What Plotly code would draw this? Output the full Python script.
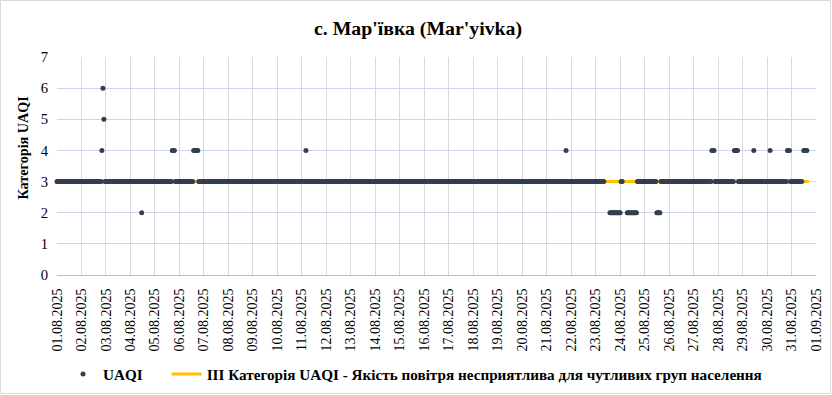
import pandas as pd
import plotly.graph_objects as go

# ---- data ----
period_start = "2025-08-01 00:00"
period_end = "2025-08-31 17:00"
baseline_category = 3          # UAQI category for most hours
threshold_category = 3         # III category line

# (start, end, category) spans that differ from the baseline
span_starts = ["2025-08-02 20:00", "2025-08-02 21:00", "2025-08-02 22:00",
               "2025-08-04 11:00", "2025-08-05 17:00", "2025-08-06 14:00",
               "2025-08-11 04:00", "2025-08-21 19:00", "2025-08-23 14:00",
               "2025-08-24 07:00", "2025-08-25 12:00", "2025-08-27 18:00",
               "2025-08-28 16:00", "2025-08-29 11:00", "2025-08-30 03:00",
               "2025-08-30 20:00", "2025-08-31 12:00"]
span_ends = ["2025-08-02 20:00", "2025-08-02 21:00", "2025-08-02 22:00",
             "2025-08-04 11:00", "2025-08-05 19:00", "2025-08-06 18:00",
             "2025-08-11 04:00", "2025-08-21 19:00", "2025-08-24 00:00",
             "2025-08-24 16:00", "2025-08-25 15:00", "2025-08-27 20:00",
             "2025-08-28 19:00", "2025-08-29 11:00", "2025-08-30 03:00",
             "2025-08-30 22:00", "2025-08-31 15:00"]
span_values = [4, 6, 5, 2, 4, 4, 4, 4, 2, 2, 2, 4, 4, 4, 4, 4, 4]

# hours without a UAQI value
gap_starts = ["2025-08-23 09:00", "2025-08-24 03:00", "2025-08-31 11:00", "2025-08-31 16:00"]
gap_ends = ["2025-08-23 13:00", "2025-08-24 06:00", "2025-08-31 11:00", "2025-08-31 17:00"]

series_name = "UAQI"
threshold_name = "III Категорія UAQI - Якість повітря несприятлива для чутливих груп населення"
title_text = "с. Мар'ївка (Mar'yivka)"
y_title = "Категорія UAQI"

# ---- build table ----
hours = pd.date_range(period_start, period_end, freq="h")
uaqi = pd.Series(float(baseline_category), index=hours)
for s, e, v in zip(span_starts, span_ends, span_values):
    uaqi.loc[s:e] = v
for s, e in zip(gap_starts, gap_ends):
    uaqi.loc[s:e] = float("nan")
uaqi = uaqi.dropna()

FONT = "'Liberation Serif', 'Times New Roman', Times, serif"
MARK = "#333F50"
YELLOW = "#FFC000"

L, R, T, B = 57, 16, 57, 120
W, H = 832, 395
PW, PH = W - L - R, H - T - B


def px_x(px):
    return (px - L) / PW


def px_y(py):
    return (T + PH - py) / PH


fig = go.Figure()
fig.add_trace(go.Scatter(
    x=hours, y=[threshold_category] * len(hours), mode="lines",
    line=dict(color=YELLOW, width=3), name="<b>" + threshold_name + "</b>", legendrank=2,
    cliponaxis=False, hoverinfo="skip"))
fig.add_trace(go.Scatter(
    x=uaqi.index, y=uaqi.values, mode="markers",
    marker=dict(color=MARK, size=5, line=dict(width=0)),
    name="<b>" + series_name + "</b>" + "\u00a0" * 5, legendrank=1, cliponaxis=False))

fig.update_layout(
    width=W, height=H,
    margin=dict(l=L, r=R, t=T, b=B, autoexpand=False),
    paper_bgcolor="white", plot_bgcolor="white",
    font=dict(family=FONT, size=14.67, color="#000000"),
    title=dict(text="<b>" + title_text + "</b>", x=418 / W, xanchor="center",
               xref="container", yref="container", y=1 - 28 / H, yanchor="middle",
               font=dict(family=FONT, size=19.8, color="#000000")),
    showlegend=True,
    legend=dict(orientation="h", x=px_x(63), xanchor="left", y=px_y(374), yanchor="middle",
                font=dict(family=FONT, size=15.2, color="#000000"),
                traceorder="normal", itemwidth=30, bgcolor="rgba(0,0,0,0)"),
)
fig.update_xaxes(
    type="date", range=["2025-08-01", "2025-09-01"], automargin=False,
    dtick=86400000, tick0="2025-08-01", tickformat="%d.%m.%Y", tickangle=-90,
    showgrid=True, gridcolor="#D9D9D9", gridwidth=1,
    showline=True, linecolor="#BFBFBF", linewidth=1,
    ticks="", zeroline=False, ticklabelstandoff=7,
    tickfont=dict(family=FONT, size=14, color="#000000"),
)
fig.update_yaxes(
    range=[0, 7], dtick=1, tick0=0, automargin=False,
    showgrid=True, gridcolor="#CDD6EA", gridwidth=1,
    zeroline=False, showline=False, ticks="", ticklabelstandoff=8,
    tickfont=dict(family=FONT, size=14.67, color="#000000"),
)
fig.add_annotation(text="<b>" + y_title + "</b>", textangle=-90,
                   xref="paper", yref="paper", x=px_x(22), y=px_y(147.5),
                   xanchor="center", yanchor="middle", showarrow=False,
                   font=dict(family=FONT, size=14.2, color="#000000"))
# outer chart border
fig.add_shape(type="rect", xref="paper", yref="paper",
              x0=px_x(0.5), x1=px_x(830.5), y0=px_y(393.5), y1=px_y(0.5),
              line=dict(color="#D9D9D9", width=1), fillcolor="rgba(0,0,0,0)", layer="below")

fig.write_html("out.html", config={"displayModeBar": False},
               post_script="document.body.style.margin='0';")
